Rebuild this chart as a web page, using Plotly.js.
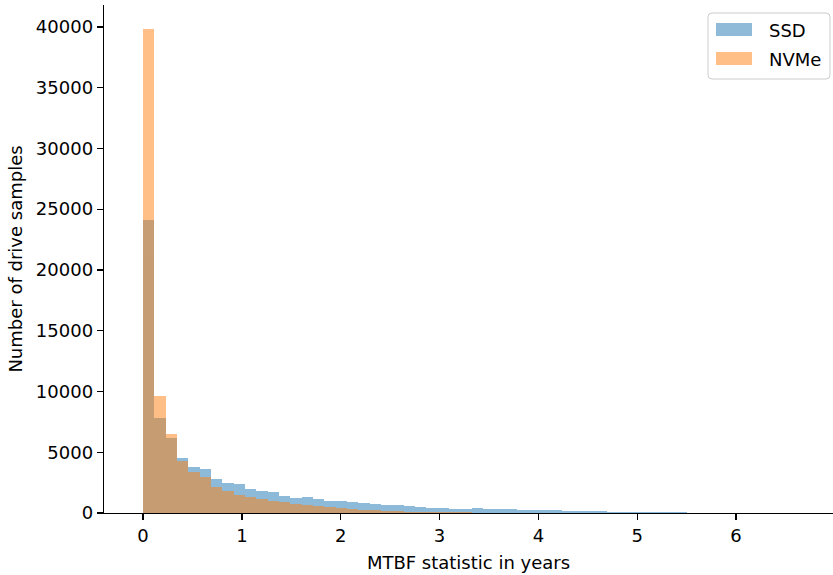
<!DOCTYPE html>
<html>
<head>
<meta charset="utf-8">
<script src="https://cdn.plot.ly/plotly-3.0.1.min.js"></script>
<style>html,body{margin:0;padding:0;background:#fff;} #chart{width:833px;height:575px;}</style>
</head>
<body>
<div id="chart"></div>
<script>
// Histogram bins (years): start and width
const binStart = 0;
const binWidth = 0.1146;

// Counts per bin
const ssdCounts = [24100, 7800, 6200, 4550, 3760, 3600, 2800, 2500, 2390, 1960,
  1810, 1700, 1400, 1230, 1340, 1130, 1010, 960, 880, 800,
  740, 630, 630, 580, 520, 450, 450, 370, 320, 400,
  340, 300, 360, 260, 250, 240, 220, 160, 150, 140,
  130, 120, 90, 80, 70, 60, 60, 50, 40, 25,
  20, 15, 12, 10, 8, 6, 5, 4, 3, 2, 2];
const nvmeCounts = [39850, 9600, 6500, 4280, 3370, 2940, 2110, 1810, 1500, 1300,
  1150, 1000, 880, 740, 640, 580, 470, 410, 330, 270,
  220, 180, 150, 120, 100, 80, 70, 60, 50, 40,
  35, 30, 25, 20, 15, 12, 10, 8, 6, 5,
  4, 3, 2, 2, 1, 1, 1];

const seriesNames = ["SSD", "NVMe"];
const xTicks = [0, 1, 2, 3, 4, 5, 6];
const yTicks = [0, 5000, 10000, 15000, 20000, 25000, 30000, 35000, 40000];

const blue = "#1f77b4", orange = "#ff7f0e";
const centers = arr => arr.map((_, i) => binStart + (i + 0.5) * binWidth);

const traces = [
  {type: "bar", name: seriesNames[0], x: centers(ssdCounts), y: ssdCounts, width: binWidth,
   marker: {color: blue, line: {width: 0}}, opacity: 0.5, showlegend: false},
  {type: "bar", name: seriesNames[1], x: centers(nvmeCounts), y: nvmeCounts, width: binWidth,
   marker: {color: orange, line: {width: 0}}, opacity: 0.5, showlegend: false}
];

// plot area in pixels
const W = 833, H = 575, L = 104, R = 0, T = 5, B = 62;
const pw = W - L - R, ph = H - T - B;
const px = x => (x - L) / pw;
const py = y => 1 - (y - T) / ph;

function roundRect(x0, y0, x1, y1, r) {
  const rx = r / pw, ry = r / ph;
  const a = px(x0), b = px(x1), c = py(y0), d = py(y1);
  return `M${a+rx},${c} L${b-rx},${c} Q${b},${c} ${b},${c-ry} L${b},${d+ry} Q${b},${d} ${b-rx},${d} L${a+rx},${d} Q${a},${d} ${a},${d+ry} L${a},${c-ry} Q${a},${c} ${a+rx},${c} Z`;
}

const shapes = [
  {type: "path", xref: "paper", yref: "paper", path: roundRect(708, 13, 830, 79, 4),
   fillcolor: "rgba(255,255,255,0.8)", line: {color: "#cccccc", width: 1}},
  {type: "rect", xref: "paper", yref: "paper", x0: px(716), x1: px(752), y0: py(23), y1: py(36),
   fillcolor: blue, opacity: 0.5, line: {width: 0}},
  {type: "rect", xref: "paper", yref: "paper", x0: px(716), x1: px(752), y0: py(52), y1: py(65),
   fillcolor: orange, opacity: 0.5, line: {width: 0}}
];
const annotations = [
  {xref: "paper", yref: "paper", x: px(767), y: py(30), text: seriesNames[0], showarrow: false,
   xanchor: "left", yanchor: "middle", font: {size: 18, color: "#000"}},
  {xref: "paper", yref: "paper", x: px(767), y: py(59), text: seriesNames[1], showarrow: false,
   xanchor: "left", yanchor: "middle", font: {size: 18, color: "#000"}}
];

const layout = {
  width: W, height: H,
  margin: {l: L, r: R, t: T, b: B, pad: 0},
  paper_bgcolor: "#fff", plot_bgcolor: "#fff",
  font: {family: "DejaVu Sans, sans-serif", size: 18, color: "#000"},
  barmode: "overlay", bargap: 0,
  showlegend: false,
  xaxis: {range: [-0.395, 6.981], tickvals: xTicks, ticktext: xTicks.map(String),
    showgrid: false, zeroline: false, showline: true, linecolor: "#000", linewidth: 1.3,
    ticks: "outside", ticklen: 6, tickwidth: 1.3, tickcolor: "#000",
    title: {text: "MTBF statistic in years", font: {size: 18}, standoff: 11}, automargin: false},
  yaxis: {range: [0, 41800], tickvals: yTicks, ticktext: yTicks.map(String),
    showgrid: false, zeroline: false, showline: true, linecolor: "#000", linewidth: 1.3,
    ticks: "outside", ticklen: 6, tickwidth: 1.3, tickcolor: "#000",
    title: {text: "Number of drive samples", font: {size: 18}, standoff: 8}, automargin: false},
  shapes: shapes, annotations: annotations
};

Plotly.newPlot("chart", traces, layout, {displayModeBar: false, staticPlot: true});
</script>
</body>
</html>
